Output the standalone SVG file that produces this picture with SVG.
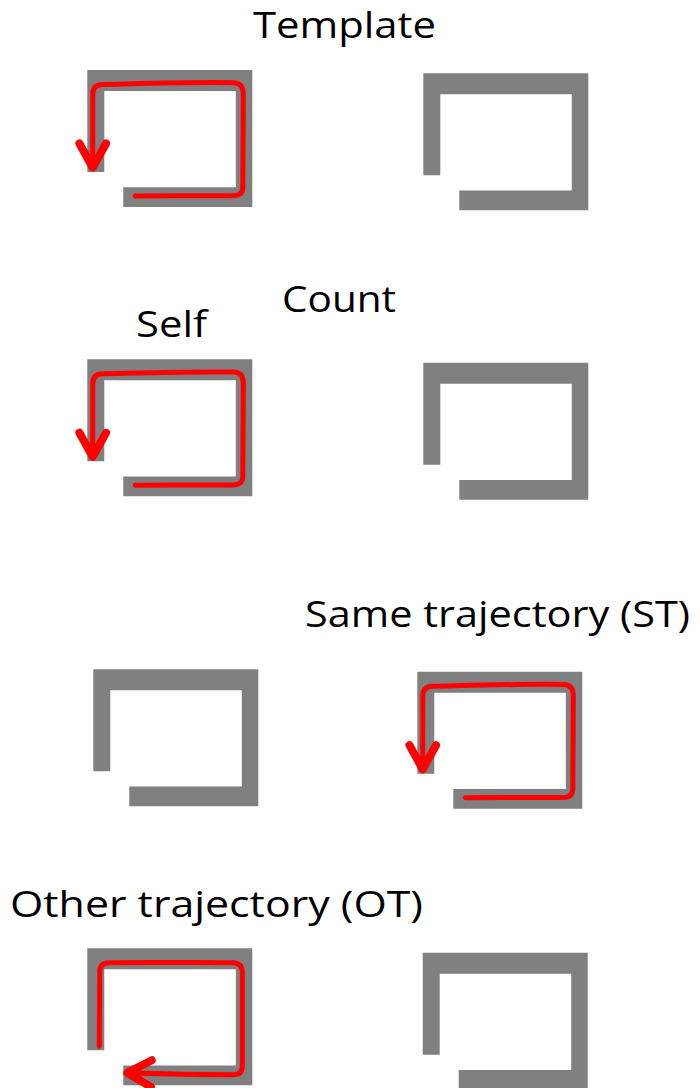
<svg xmlns="http://www.w3.org/2000/svg" width="700" height="1088" viewBox="0 0 700 1088">
  <defs>
    <style>
      .lbl { font-family: "Open Sans", "Liberation Sans", sans-serif; font-size: 37px; fill: #000; }
      .wall { fill: #808080; }
      .traj { fill: none; stroke: #ff0000; stroke-width: 5; stroke-linecap: round; stroke-linejoin: round; }
    </style>
    <path id="wallShape" class="wall" d="M0,0 H165 V137 H36 V117.3 H148.5 V21 H17 V102 H0 Z"/>
    <marker id="arr" markerUnits="userSpaceOnUse" orient="auto" refX="0" refY="0" markerWidth="40" markerHeight="40" viewBox="-25 -15 30 30" overflow="visible">
      <path d="M-18,-10 L0,0 L-18,10" fill="none" stroke="#ff0000" stroke-width="6" stroke-linecap="round" stroke-linejoin="round"/>
    </marker>
  </defs>
  <rect width="700" height="1088" fill="#ffffff"/>

  <g id="labels">
    <text class="lbl" x="253" y="38" textLength="183" lengthAdjust="spacingAndGlyphs">Template</text>
    <text class="lbl" x="282" y="312" textLength="114" lengthAdjust="spacingAndGlyphs">Count</text>
    <text class="lbl" x="136" y="337" textLength="71" lengthAdjust="spacingAndGlyphs">Self</text>
    <text class="lbl" x="305" y="627" textLength="385" lengthAdjust="spacingAndGlyphs">Same trajectory (ST)</text>
    <text class="lbl" x="10" y="917" textLength="413" lengthAdjust="spacingAndGlyphs">Other trajectory (OT)</text>
  </g>

  <g id="template-left" transform="translate(87.3,70)"><use href="#wallShape"/></g>
  <g id="template-right" transform="translate(423.3,73.3)"><use href="#wallShape"/></g>
  <g id="self-left" transform="translate(87.3,359.3)"><use href="#wallShape"/></g>
  <g id="self-right" transform="translate(423.3,362.8)"><use href="#wallShape"/></g>
  <g id="st-left" transform="translate(93.3,669.3)"><use href="#wallShape"/></g>
  <g id="st-right" transform="translate(417.3,671.7)"><use href="#wallShape"/></g>
  <g id="ot-left" transform="translate(87.3,948.3)"><use href="#wallShape"/></g>
  <g id="ot-right" transform="translate(422.7,952.7)"><use href="#wallShape"/></g>

  <g id="connectors">
    <path class="traj" marker-end="url(#arr)" transform="translate(87.3,70)" d="M48,126 C90,125.3 130,126.3 148,125.5 Q155.5,125 155.5,117 L156,24 Q156,13 146,12.8 C110,12 60,13.5 15,14.5 Q5.5,15 5.5,24 L5.4,97.5"/>
    <path class="traj" marker-end="url(#arr)" transform="translate(87.3,359.3)" d="M48,126 C90,125.3 130,126.3 148,125.5 Q155.5,125 155.5,117 L156,24 Q156,13 146,12.8 C110,12 60,13.5 15,14.5 Q5.5,15 5.5,24 L5.4,97.5"/>
    <path class="traj" marker-end="url(#arr)" transform="translate(417.3,671.7)" d="M48,126 C90,125.3 130,126.3 148,125.5 Q155.5,125 155.5,117 L156,24 Q156,13 146,12.8 C110,12 60,13.5 15,14.5 Q5.5,15 5.5,24 L5.4,97.5"/>
    <path class="traj" marker-end="url(#arr)" transform="translate(87.3,948.3)" d="M12,98 L12.5,23 Q13,14.5 22,14.5 C60,13.5 110,14.5 146,14.5 Q155,15 155,24 L155,118 Q155,126.5 146,126.5 C110,126.5 70,125.5 40,124.5"/>
  </g>
</svg>
